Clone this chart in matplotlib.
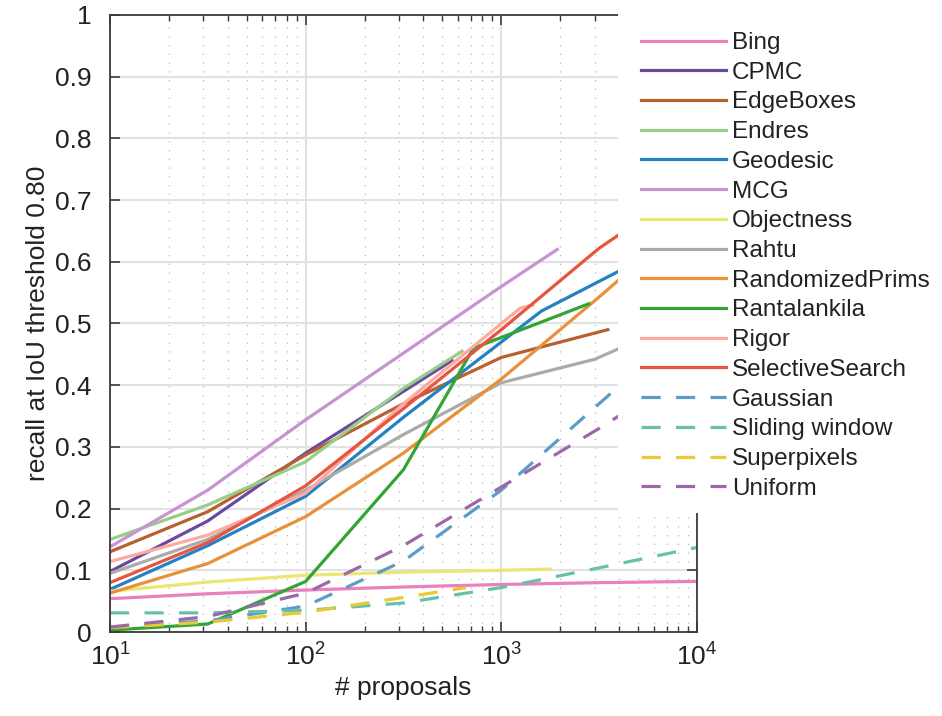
import matplotlib
matplotlib.use('Agg')
import matplotlib.pyplot as plt
from matplotlib.patches import Rectangle
from matplotlib.ticker import LogLocator, MultipleLocator, FuncFormatter, NullFormatter

plt.rcParams['font.family'] = ['Liberation Sans', 'DejaVu Sans']
plt.rcParams['mathtext.fontset'] = 'custom'
plt.rcParams['mathtext.rm'] = 'Liberation Sans'

# dados (recall @ IoU 0.80 vs # proposals)
meio = [10, 31.6, 100, 316, 1000, 3162, 10000]

bing_x = meio
bing_y = [0.054, 0.062, 0.068, 0.073, 0.077, 0.080, 0.082]
cpmc_x = [10, 31.6, 100, 316, 560]
cpmc_y = [0.098, 0.18, 0.29, 0.39, 0.44]
edge_x = [10, 31.6, 100, 316, 1000, 3500]
edge_y = [0.13, 0.195, 0.287, 0.37, 0.445, 0.49]
endres_x = [10, 31.6, 100, 316, 630]
endres_y = [0.15, 0.206, 0.276, 0.395, 0.455]
geo_x = [10, 31.6, 100, 316, 1000, 1600, 4000, 10000]
geo_y = [0.069, 0.14, 0.22, 0.348, 0.47, 0.52, 0.585, 0.65]
mcg_x = [10, 31.6, 100, 316, 1000, 1930]
mcg_y = [0.138, 0.23, 0.344, 0.452, 0.56, 0.62]
obj_x = [10, 31.6, 100, 316, 1000, 1770]
obj_y = [0.066, 0.081, 0.092, 0.097, 0.100, 0.102]
rahtu_x = [10, 31.6, 100, 316, 1000, 3000, 10000]
rahtu_y = [0.095, 0.15, 0.23, 0.32, 0.404, 0.442, 0.515]
prims_x = meio
prims_y = [0.063, 0.111, 0.187, 0.29, 0.41, 0.543, 0.68]
ranta_x = [10, 31.6, 100, 316, 720, 2800]
ranta_y = [0.003, 0.013, 0.082, 0.263, 0.46, 0.532]
rigor_x = [10, 31.6, 100, 316, 1000, 1250, 1450]
rigor_y = [0.114, 0.157, 0.225, 0.37, 0.50, 0.525, 0.53]
ss_x = meio
ss_y = [0.080, 0.145, 0.237, 0.362, 0.49, 0.622, 0.73]
gauss_x = meio
gauss_y = [0.008, 0.018, 0.042, 0.115, 0.23, 0.37, 0.51]
slide_x = meio
slide_y = [0.031, 0.031, 0.035, 0.047, 0.072, 0.104, 0.137]
superpix_x = [10, 31.6, 100, 316, 660]
superpix_y = [0.007, 0.016, 0.032, 0.056, 0.072]
unif_x = meio
unif_y = [0.008, 0.025, 0.063, 0.14, 0.235, 0.33, 0.43]

series = [
    ('Bing', bing_x, bing_y, '#ea80bd', '-'),
    ('CPMC', cpmc_x, cpmc_y, '#6a4a9e', '-'),
    ('EdgeBoxes', edge_x, edge_y, '#b8602e', '-'),
    ('Endres', endres_x, endres_y, '#95cf8a', '-'),
    ('Geodesic', geo_x, geo_y, '#2481c2', '-'),
    ('MCG', mcg_x, mcg_y, '#c992d3', '-'),
    ('Objectness', obj_x, obj_y, '#e9e672', '-'),
    ('Rahtu', rahtu_x, rahtu_y, '#ababab', '-'),
    ('RandomizedPrims', prims_x, prims_y, '#e8913a', '-'),
    ('Rantalankila', ranta_x, ranta_y, '#32a535', '-'),
    ('Rigor', rigor_x, rigor_y, '#ffa9a3', '-'),
    ('SelectiveSearch', ss_x, ss_y, '#e8553f', '-'),
    ('Gaussian', gauss_x, gauss_y, '#5b9dc8', '--'),
    ('Sliding window', slide_x, slide_y, '#68c0ab', '--'),
    ('Superpixels', superpix_x, superpix_y, '#e9c936', '--'),
    ('Uniform', unif_x, unif_y, '#9b69a8', '--'),
]

fig = plt.figure(figsize=(9.42, 7.16), dpi=100)
ax = fig.add_axes([110 / 942, 1 - 632 / 716, 587 / 942, 617 / 716])

linhas = []
for nome, xs, ys, cor, estilo in series:
    if estilo == '--':
        ln, = ax.plot(xs, ys, color=cor, lw=2.3, linestyle=(0, (6, 4.8)), label=nome)
    else:
        ln, = ax.plot(xs, ys, color=cor, lw=2.3, label=nome)
    linhas.append(ln)

ax.set_xscale('log')
ax.set_xlim(10, 10000)
ax.set_ylim(0, 1)
ax.yaxis.set_major_locator(MultipleLocator(0.1))
ax.yaxis.set_major_formatter(FuncFormatter(lambda v, p: '%g' % round(v, 2)))
ax.xaxis.set_major_locator(LogLocator(base=10, numticks=10))
ax.xaxis.set_minor_locator(LogLocator(base=10, subs=range(2, 10), numticks=20))
ax.xaxis.set_minor_formatter(NullFormatter())

ax.grid(True, which='major', color='#e2e2e2', lw=1.5, ls='-')
ax.grid(True, which='minor', axis='x', color='#b5b5b5', lw=0.9, ls=(0, (1, 6)))
ax.set_axisbelow(True)

for s in ax.spines.values():
    s.set_color('#3a3a3a')
    s.set_linewidth(1.3)
ax.tick_params(which='both', direction='in', top=True, right=True, colors='#3a3a3a',
               labelcolor='#222222', labelsize=19)
ax.tick_params(which='major', length=7, width=1.2)
ax.tick_params(axis='x', which='major', pad=8)
ax.tick_params(axis='y', which='major', pad=13)
ax.tick_params(which='minor', length=4, width=1.0)

ax.set_xlabel('# proposals', fontsize=19, color='#222222', labelpad=4)
ax.set_ylabel('recall at IoU threshold 0.80', fontsize=19, color='#222222', labelpad=4)

# fundo branco da legenda, por cima do canto do gráfico
fig.patches.append(Rectangle((618 / 942, 1 - 513 / 716), 1, 1, transform=fig.transFigure,
                             facecolor='white', edgecolor='none', zorder=2))

leg = fig.legend(handles=linhas, loc='upper left', bbox_to_anchor=(641 / 942, 1 - 32 / 716),
                 frameon=False, fontsize=17.5, handlelength=3.5, handletextpad=0.25,
                 labelspacing=0.317, borderpad=0, borderaxespad=0)
leg.set_zorder(3)
for t in leg.get_texts():
    t.set_color('#222222')

fig.savefig('out.png', dpi=100)
